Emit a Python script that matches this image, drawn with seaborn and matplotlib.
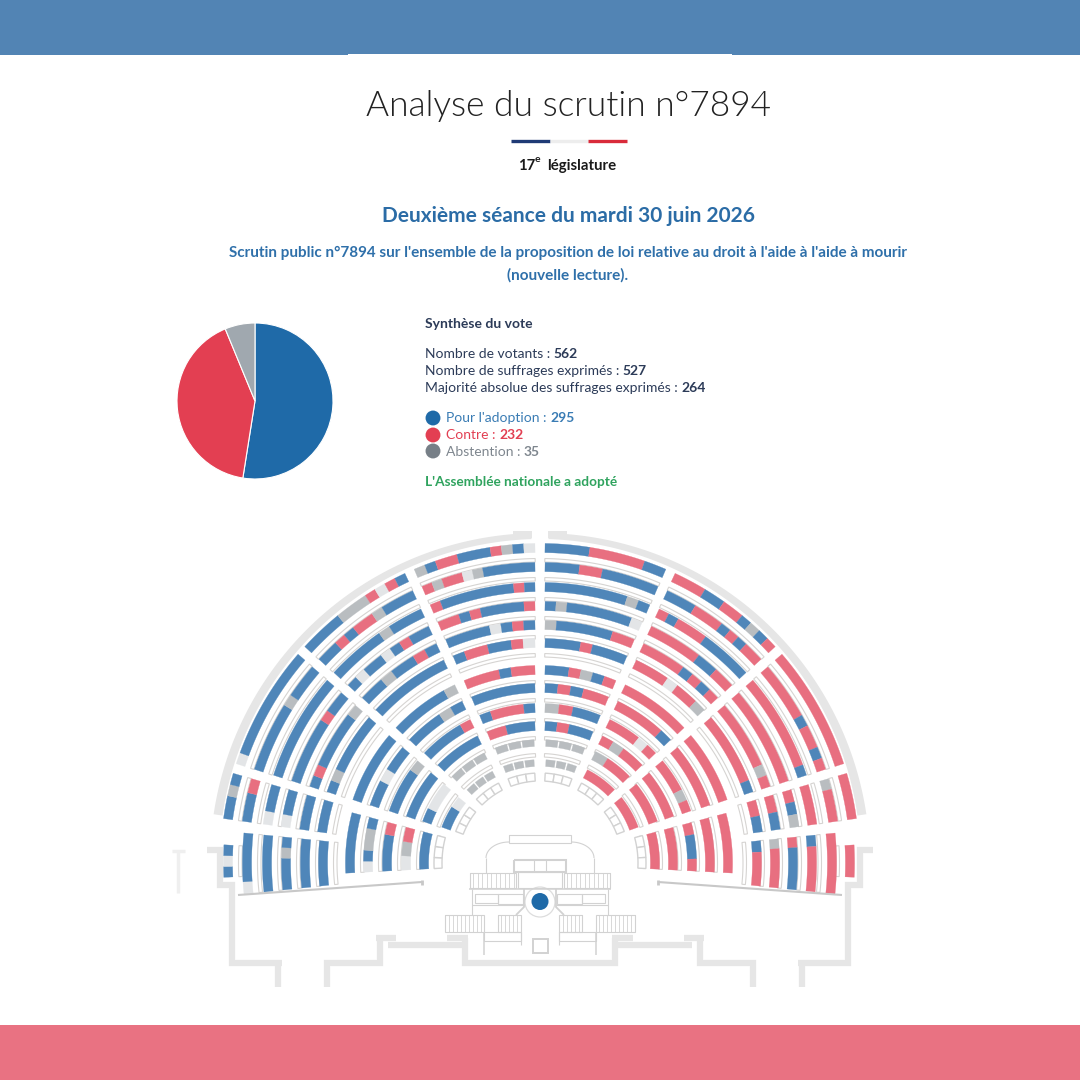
import numpy as np
import pandas as pd
import matplotlib
matplotlib.use('Agg')
import matplotlib.pyplot as plt
from matplotlib.patches import Polygon, Rectangle, Ellipse
import seaborn as sns

# vote summary
pie_labels = ['Pour', 'Contre', 'Abstention']
pie_values = [295, 232, 35]
votants = 562
exprimes = 527
majorite = 264

# one letter per seat, left to right (angle increasing)
# B pour, R contre, G abstention, E no vote, O free seat
left_top = ['GBRRBBBRGBE', 'RGRREGBBBBB', 'RBBBBBBBRB', 'RRBRBBBBR', 'BBBBEBRB', 'BRRBBRE',
            'RRRBRR', 'BBBBBB', 'BRRRB', 'RRBBB', 'GGG', 'GGG', 'OOO']
left_upper = ['BBBBGGGRERB', 'BBRBRRGBBB', 'BBBBBGBBB', 'BEBBEBRBB', 'BBGBBRB', 'BBBBBBB',
              'BBBBBG', 'BBBGB', 'BBBBR', 'BBBB', 'GGG', 'GGG', 'OOO']
left_mid = ['EBBBBBBBBBB', 'BBBBBBGBBB', 'BBBBBBBBBB', 'BBBBBBRBB', 'BRBBBBBG', 'BGBBBBB',
            'BBBBBB', 'BBEBB', 'BBBBG', 'BBBB', 'BEE', 'BBE', 'OOO']
left_short = ['BBGB', 'BBR', 'EBB', 'EBB', 'BBB', 'BBB']
left_low_out = ['BEB', 'EBBBB', 'BBBBB', 'BBBGB', 'BBBBB', 'BBBB']
left_low_in = ['BBBBBB', 'EBGGB', 'BBBR', 'EGR', 'BBB', 'OOO']

right_top = ['BBBBRRRRRBB', 'BBBRRBBBBB', 'BBBBBBBGB', 'BGBBBBBBE', 'GBBBBBRR', 'BBBRBBB',
             'BBRGBR', 'BRBRR', 'GRBB', 'BRBB', 'GGG', 'GGG', 'OOO']
right_upper = ['RRRBBRRBGBR', 'BBBRRRBRBRR', 'RBRRRBBBBB', 'RRRRRBBRR', 'RRRRBRBR', 'RRRERRG',
               'RRRRRR', 'RRRRB', 'RRRER', 'RGRR', 'GRR', 'RRR', 'OOO']
right_mid = ['RRRRRRRRRRR', 'RRRRRBRRBR', 'RRRRRRRRRB', 'RRRRRRRRR', 'RRRRRRGR', 'RRRRRRB',
             'RRRRRR', 'RRRRR', 'RRRGR', 'RRRR', 'RRR', 'RRR', 'OOO']
right_short = ['RRRR', 'GRRR', 'RRR', 'RBG', 'RRBB', 'RRBB']
right_low_out = ['RRR', 'RRRRR', 'BRRRR', 'RBBBB', 'GRRRR', 'BRRR']
right_low_in = ['RRRRRR', 'RRRRR', 'RBBR', 'RRR', 'RRR', 'OOO']

# geometry of the hemicycle, in pixels of the 1080 canvas
CX, CY = 540, 863
R_MAIN = [315, 296, 276, 257, 238, 220, 193, 175, 155, 137, 120, 100, 86]
R_SHORT = [315, 296, 275, 257, 238, 220]
R_LOW_L = [312, 293, 273, 254, 235, 217]
R_LOW_R = [310, 292, 272, 253, 235, 217]
R_IN_L = [190, 172, 153, 134, 116, 102]
R_IN_R = [188, 170, 152, 133, 115, 102]
GAP = 5

BLUE_SEAT, RED_SEAT, GREY_SEAT, EMPTY_SEAT = '#4F86B9', '#E86F80', '#B9BDC0', '#E3E5E7'
WALL = '#E6E6E6'
LINE = '#D2D2D2'
DESK = '#D6D4D2'
seat_colors = {'B': BLUE_SEAT, 'R': RED_SEAT, 'G': GREY_SEAT, 'E': EMPTY_SEAT, 'O': 'white'}

sns.set_theme(style='white')
plt.rcParams['font.family'] = ['Lato', 'DejaVu Sans']

fig = plt.figure(figsize=(10.8, 10.8), dpi=100)
ax = fig.add_axes([0, 0, 1, 1])
ax.set_xlim(0, 1080)
ax.set_ylim(1080, 0)
ax.axis('off')


def arc(r0, r1, t0, t1, **kw):
    t = np.radians(np.linspace(t0, t1, max(3, int(abs(t1 - t0)) + 3)))
    xs = np.r_[CX + r1 * np.sin(t), CX + r0 * np.sin(t[::-1])]
    ys = np.r_[CY - r1 * np.cos(t), CY - r0 * np.cos(t[::-1])]
    ax.add_patch(Polygon(np.c_[xs, ys], closed=True, **kw))


def sector(rows, radii, d0, d1, gap=GAP):
    for seats, r in zip(rows, radii):
        g = np.degrees(gap / r)
        t0, t1 = d0 + g, d1 - g
        if r > 102 and seats != 'OOO':
            arc(r - 14, r - 10.5, t0, t1, fc='white', ec=DESK, lw=0.8)
        edges = np.linspace(t0, t1, len(seats) + 1)
        separate = seats in ('OOO', 'GGG')
        i = 0
        while i < len(seats):
            j = i + 1
            while not separate and j < len(seats) and seats[j] == seats[i]:
                j += 1
            c = seat_colors[seats[i]]
            if seats[i] == 'O':
                arc(r - 4, r + 4, edges[i], edges[j], fc='white', ec=LINE, lw=1.0)
            elif separate:
                # the small front rows show each seat apart
                pad = np.degrees(0.8 / r)
                arc(r - 3.4, r + 3.4, edges[i] + pad, edges[j] - pad, fc=c, ec=c, lw=0.2)
            else:
                arc(r - 4.6, r + 4.6, edges[i], edges[j], fc=c, ec=c, lw=0.2)
            i = j


def seg(xs, ys, lw=0.8, color=LINE, mirror=True):
    ax.plot(xs, ys, color=color, lw=lw, solid_capstyle='butt', solid_joinstyle='miter')
    if mirror:
        ax.plot(2 * 540 - np.array(xs), ys, color=color, lw=lw, solid_capstyle='butt',
                solid_joinstyle='miter')


def box(x0, y0, x1, y1, lw=0.8, color=LINE, mirror=True):
    seg([x0, x1, x1, x0, x0], [y0, y0, y1, y1, y0], lw, color, mirror)


def runs(x, y, parts, size):
    # consecutive pieces of text on one line, each with its own colour and weight
    rend = fig.canvas.get_renderer()
    for txt, col, wgt in parts:
        ax.text(x, y, txt, color=col, fontweight=wgt, fontsize=size, va='center', ha='left')
        probe = ax.text(0, 0, txt + '|', fontweight=wgt, fontsize=size)
        bar = ax.text(0, 0, '|', fontweight=wgt, fontsize=size)
        x += probe.get_window_extent(rend).width - bar.get_window_extent(rend).width
        probe.remove()
        bar.remove()
    return x


# bands
ax.add_patch(Rectangle((0, 0), 1080, 55, fc='#5284B4', ec='none'))
ax.add_patch(Rectangle((348, 54), 384, 2, fc='white', ec='none'))
ax.add_patch(Rectangle((0, 1025), 1080, 55, fc='#E97282', ec='none'))

# header
ax.text(568, 106, 'Analyse du scrutin n°7894', ha='center', va='center', fontsize=25.4,
        fontweight=300, color='#222222')
ax.plot([511, 550], [140.5, 140.5], color='#1F3A75', lw=2.4, solid_capstyle='butt')
ax.plot([550, 588], [140.5, 140.5], color='#EDEDED', lw=2.4, solid_capstyle='butt')
ax.plot([588, 627], [140.5, 140.5], color='#D92B3A', lw=2.4, solid_capstyle='butt')
ax.text(518.5, 166, '17', fontsize=10.7, fontweight='bold', color='#1A1A1A', va='center')
ax.text(534.5, 160, 'e', fontsize=7.5, fontweight='bold', color='#1A1A1A', va='center')
ax.text(547, 166, 'législature', fontsize=10.8, fontweight='bold', color='#1A1A1A', va='center')
ax.text(568, 216, 'Deuxième séance du mardi 30 juin 2026', ha='center', va='center', fontsize=15,
        fontweight='bold', color='#2B6CA6')
title_blue = '#2F70AA'
ax.text(568, 252.5, "Scrutin public n°7894 sur l'ensemble de la proposition de loi relative au droit à "
        "l'aide à l'aide à mourir", ha='center', va='center', fontsize=11.02, fontweight='bold', color=title_blue)
ax.text(568, 275, '(nouvelle lecture).', ha='center', va='center', fontsize=11.02, fontweight='bold',
        color=title_blue)

# pie
pie_ax = fig.add_axes([177 / 1080, 1 - 479 / 1080, 156 / 1080, 156 / 1080])
pie_ax.pie(pie_values, colors=['#1F6AA8', '#E33F52', '#A0A8AF'], startangle=90, counterclock=False,
           radius=1, wedgeprops={'edgecolor': 'white', 'linewidth': 0.8})
pie_ax.set_xlim(-1, 1)
pie_ax.set_ylim(-1, 1)

# vote text
navy = '#2C3B58'
S = 10.0
ax.text(425, 324, 'Synthèse du vote', fontsize=S, fontweight='bold', color=navy, va='center')
runs(425, 354, [('Nombre de votants : ', navy, 'normal'), (str(votants), navy, 'bold')], S)
runs(425, 371, [('Nombre de suffrages exprimés : ', navy, 'normal'), (str(exprimes), navy, 'bold')], S)
runs(425, 388, [('Majorité absolue des suffrages exprimés : ', navy, 'normal'), (str(majorite), navy, 'bold')], S)
runs(446, 418, [("Pour l'adoption : ", '#3A7CB4', 'normal'), (str(pie_values[0]), '#3A7CB4', 'bold')], S)
runs(446, 435, [('Contre : ', '#E23F52', 'normal'), (str(pie_values[1]), '#E23F52', 'bold')], S)
runs(446, 451.5, [('Abstention : ', '#7E868E', 'normal'), (str(pie_values[2]), '#7E868E', 'bold')], S)
ax.text(425, 482, "L'Assemblée nationale a adopté", fontsize=9.85, fontweight='bold', color='#2FA35E', va='center')

legend = pd.DataFrame({'x': [433, 433, 433], 'y': [418, 435, 451], 'vote': pie_labels})
sns.scatterplot(data=legend, x='x', y='y', hue='vote', legend=False, ax=ax, s=115, linewidth=0,
                palette={'Pour': '#1F6AA8', 'Contre': '#E33F52', 'Abstention': '#777F87'})
ax.set_xlabel('')
ax.set_ylabel('')
ax.set_xlim(0, 1080)
ax.set_ylim(1080, 0)

# outer wall
t = np.radians(np.linspace(-81.5, -1.5, 90))
k = np.linspace(321, 324, 90)
for sign in (1, -1):
    ax.add_patch(Polygon(np.c_[np.r_[CX + sign * 330 * np.sin(t), CX + sign * (k * np.sin(t))[::-1]],
                               np.r_[CY - 330 * np.cos(t), CY - (k * np.cos(t))[::-1]]],
                         closed=True, fc=WALL, ec='none'))
ax.add_patch(Rectangle((513, 530.5), 19, 7, fc=WALL, ec='none'))
ax.add_patch(Rectangle((548, 530.5), 19, 7, fc=WALL, ec='none'))

# seats
sector(left_mid, R_MAIN, -72.8, -48.3)
sector(left_upper, R_MAIN, -48.3, -24.1)
sector(left_top, R_MAIN, -24.1, 0)
sector(right_top, R_MAIN, 0, 24.1)
sector(right_upper, R_MAIN, 24.1, 48.3)
sector(right_mid, R_MAIN, 48.3, 72.8)
sector(left_short, R_SHORT, -82, -73.7, gap=0)
sector(right_short, R_SHORT, 73.7, 82, gap=0)
sector(left_low_out[:1], R_LOW_L[:1], -92.6, -86.7, gap=0)
sector(right_low_out[:1], R_LOW_R[:1], 86.7, 92.6, gap=0)
sector(left_low_out[1:], R_LOW_L[1:], -96, -84.2, gap=0)
sector(right_low_out[1:], R_LOW_R[1:], 84.2, 96, gap=0)
sector(left_low_in, R_IN_L, -93, -75, gap=0)
sector(right_low_in, R_IN_R, 75, 93, gap=0)

# walls below the seats
wl = 4.5
seg([207, 220, 220, 232, 232, 282], [850, 850, 885, 885, 963, 963], wl, WALL)
seg([278, 278], [963, 987], wl, WALL)
seg([327, 327, 380, 380], [987, 963, 963, 938], wl, WALL)
seg([376, 396], [938, 938], wl, WALL)
seg([388, 465], [945, 945], wl, WALL)
seg([447, 468], [938, 938], wl, WALL)
seg([465, 465, 540], [938, 963, 963], wl, WALL)
seg([172, 185], [851, 851], 2.5, '#EFEFEF', mirror=False)
seg([178, 178], [851, 893], 2.5, '#EFEFEF', mirror=False)

# slanted rails
seg([238, 422], [895, 882], 1.5, '#C8C8C8')
seg([422, 422], [880, 885], 2, '#C8C8C8')

# podium
seg([486, 486], [873, 858])
t_arc = np.linspace(0, np.pi / 2, 20)
seg(509 - 23 * np.cos(t_arc), 858 - 16 * np.sin(t_arc))
box(509, 835, 571, 843, mirror=False)
box(514, 860, 566, 872, 1.5, mirror=False)
seg([534, 534], [860, 872])
box(518, 872, 562, 888, mirror=False)
box(470, 873, 516, 888)
for x in np.arange(473, 516, 4.5):
    seg([x, x], [873, 888], 0.6)
seg([469, 540], [889, 889], 1.1)
seg([472, 472], [889, 915])
box(475, 894, 498, 903)
box(498, 894, 523, 904)
seg([472, 524], [905, 905])
seg([524, 524, 516], [889, 907, 915], 1.3)
box(445, 915, 484, 932)
box(498, 915, 521, 932)
for x in list(np.arange(449, 484, 4)) + list(np.arange(501, 521, 4)):
    seg([x, x], [915, 932], 0.6)
box(484, 932, 521, 941)
seg([484, 484], [932, 955], 1.1)
seg([521, 521], [932, 945])
ax.add_patch(Rectangle((533, 939), 15, 14, fc='none', ec=LINE, lw=1.4))
ax.add_patch(Ellipse((540, 902), 30, 30, fc='none', ec='#DDDDDD', lw=0.9))
ax.add_patch(Ellipse((540, 901.5), 17, 17, fc='#1F6AA8', ec='none'))

fig.savefig('out.png', dpi=100, facecolor='white')
